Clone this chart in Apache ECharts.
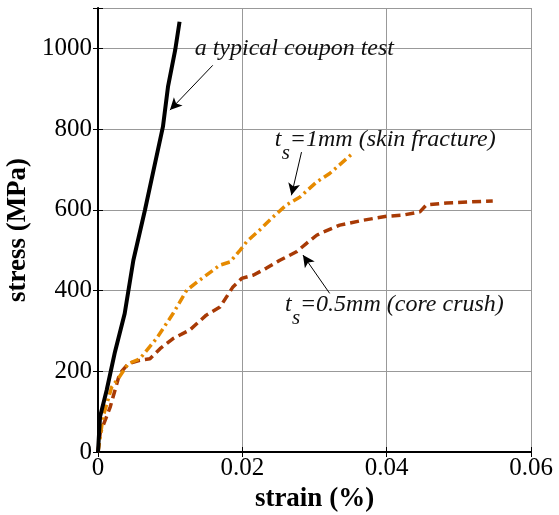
<!DOCTYPE html>
<html>
<head>
<meta charset="utf-8">
<script src="https://cdn.jsdelivr.net/npm/echarts@6/dist/echarts.min.js"></script>
<style>html,body{margin:0;padding:0;background:#fff;}#c{width:559px;height:515px;}</style>
</head>
<body>
<div id="c"></div>
<script>
// ---- data ----
const xTicks = [0, 0.02, 0.04, 0.06];
const yTicks = [0, 200, 400, 600, 800, 1000];

const couponStrain = [0, 0.00028, 0.0012, 0.00235, 0.0037, 0.0049, 0.0065, 0.0079, 0.009, 0.0097, 0.0107, 0.0113];
const couponStress = [0, 87, 153, 248, 343, 475, 599, 715, 806, 905, 996, 1066];

const skinStrain = [0, 0.0007, 0.0019, 0.0028, 0.0042, 0.0058, 0.0081, 0.0104, 0.0123, 0.0141, 0.0169, 0.0183, 0.0197, 0.0206, 0.0224, 0.0243, 0.0261, 0.028, 0.0303, 0.0321, 0.0353];
const skinStress = [0, 87, 161, 182, 219, 231, 281, 343, 401, 426, 463, 471, 500, 521, 550, 583, 612, 632, 669, 690, 740];

const coreStrain = [0, 0.0003, 0.0017, 0.003, 0.0042, 0.0058, 0.0072, 0.0086, 0.0104, 0.0127, 0.015, 0.0169, 0.0187, 0.0199, 0.0215, 0.0233, 0.0252, 0.0275, 0.0289, 0.0303, 0.0312, 0.0335, 0.0367, 0.04, 0.0423, 0.0446, 0.0455, 0.0483, 0.0547];
const coreStress = [0, 46, 112, 194, 219, 227, 231, 256, 281, 302, 339, 359, 409, 430, 438, 455, 475, 496, 517, 537, 545, 562, 574, 584, 587, 595, 612, 617, 622];

// annotations: [fromStrain, fromStress, toStrain, toStress]
const arrowCoupon = [0.0159, 958, 0.00997, 847];
const arrowSkin = [0.0282, 743, 0.0268, 636];
const arrowCore = [0.0321, 393, 0.0284, 488];
// label anchors (left edge, vertical centre) in data units
const labelCoupon = [0.0134, 1000];
const labelSkin = [0.0245, 773];
const labelCore = [0.0259, 364];

const zip = (a, b) => a.map((v, i) => [v, b[i]]);
const FONT = '"Liberation Serif", "DejaVu Serif", serif';

const chart = echarts.init(document.getElementById('c'));

function arrowLine(a) {
  return [{coord: [a[0], a[1]]}, {coord: [a[2], a[3]]}];
}

const option = {
  animation: false,
  backgroundColor: '#fff',
  grid: {left: 98, right: 28, top: 8, bottom: 63, containLabel: false, outerBoundsMode: 'none'},
  xAxis: [{
    type: 'value', min: 0, max: 0.06, interval: 0.02,
    name: 'strain (%)', nameLocation: 'middle', nameGap: 30,
    nameTextStyle: {fontFamily: FONT, fontSize: 27, fontWeight: 'bold', color: '#000'},
    axisLine: {show: true, lineStyle: {color: '#000', width: 2}},
    axisTick: {show: true, inside: true, length: 5, lineStyle: {color: '#000'}},
    axisLabel: {fontFamily: FONT, fontSize: 25, color: '#000', margin: 4,
      formatter: v => xTicks.some(t => Math.abs(t - v) < 1e-9) ? String(+v.toFixed(2)) : ''},
    splitLine: {show: true, lineStyle: {color: '#999', width: 1}}
  }, {
    type: 'value', min: 0, max: 0.06, interval: 0.02, position: 'top',
    axisLine: {show: true, lineStyle: {color: '#000', width: 1}},
    axisTick: {show: true, inside: true, length: 5, lineStyle: {color: '#000'}},
    axisLabel: {show: false}, splitLine: {show: false}
  }],
  yAxis: [{
    type: 'value', min: 0, max: 1100, interval: 200,
    name: 'stress (MPa)', nameLocation: 'middle', nameGap: 62, nameRotate: 90,
    nameTextStyle: {fontFamily: FONT, fontSize: 27, fontWeight: 'bold', color: '#000'},
    axisLine: {show: true, lineStyle: {color: '#000', width: 2}},
    axisTick: {show: true, inside: true, length: 5, lineStyle: {color: '#000'}},
    axisLabel: {fontFamily: FONT, fontSize: 25, color: '#000', margin: 6,
      formatter: v => yTicks.includes(v) ? String(v) : ''},
    splitLine: {show: true, lineStyle: {color: '#999', width: 1}}
  }, {
    type: 'value', min: 0, max: 1100, interval: 200, position: 'right',
    axisLine: {show: true, lineStyle: {color: '#000', width: 1}},
    axisTick: {show: true, inside: true, length: 5, lineStyle: {color: '#000'}},
    axisLabel: {show: false}, splitLine: {show: false}
  }],
  series: [{
    name: 'coupon', type: 'line', data: zip(couponStrain, couponStress),
    showSymbol: false, lineStyle: {color: '#000', width: 4}, z: 5,
    markLine: {
      silent: true, symbol: ['none', 'arrow'], symbolSize: [9, 12],
      lineStyle: {color: '#000', width: 1, type: 'solid'}, label: {show: false},
      data: [arrowLine(arrowCoupon), arrowLine(arrowSkin), arrowLine(arrowCore)]
    }
  }, {
    name: 'skin', type: 'line', data: zip(skinStrain, skinStress),
    showSymbol: false, lineStyle: {color: '#E68A00', width: 3.5, type: [9, 4, 2.5, 4]}, z: 4
  }, {
    name: 'core', type: 'line', data: zip(coreStrain, coreStress),
    showSymbol: false, lineStyle: {color: '#A83A05', width: 3.5, type: [9, 5]}, z: 3
  }]
};
chart.setOption(option);

function subLabel(anchor, rest) {
  const p = chart.convertToPixel({gridIndex: 0}, anchor);
  return {
    type: 'group', x: p[0], y: p[1], silent: true, z: 20,
    children: [
      {type: 'text', x: 0, y: 0, style: {text: 't', font: 'italic 24px ' + FONT, fill: '#111', verticalAlign: 'middle'}},
      {type: 'text', x: 7, y: 13, style: {text: 's', font: 'italic 21px ' + FONT, fill: '#111', verticalAlign: 'middle'}},
      {type: 'text', x: 15, y: 0, style: {text: rest, font: 'italic 24px ' + FONT, fill: '#111', verticalAlign: 'middle'}}
    ]
  };
}
const pc = chart.convertToPixel({gridIndex: 0}, labelCoupon);
chart.setOption({
  graphic: [
    {type: 'text', x: pc[0], y: pc[1], silent: true, z: 20,
     style: {text: 'a typical coupon test', font: 'italic 24px ' + FONT, fill: '#111', verticalAlign: 'middle'}},
    subLabel(labelSkin, '=1mm (skin fracture)'),
    subLabel(labelCore, '=0.5mm (core crush)')
  ]
});
</script>
</body>
</html>
